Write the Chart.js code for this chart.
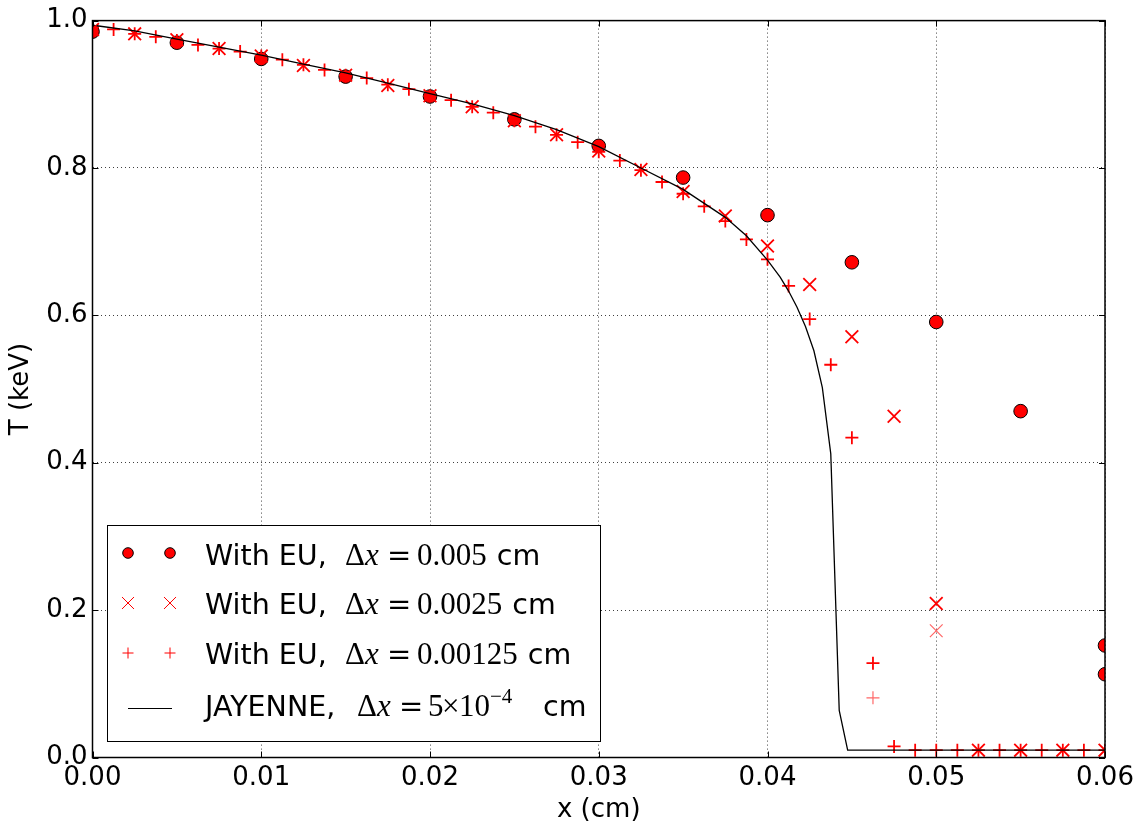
<!DOCTYPE html>
<html lang="en">
  <head>
    <meta charset="UTF-8" />
    <title>T vs x, with EU and JAYENNE</title>
    <script src="https://cdn.jsdelivr.net/npm/chart.js@4.4.0/dist/chart.umd.min.js"></script>
    <style>
      body { margin: 0; background: #fff; }
      canvas { display: block; }
    </style>
  </head>
  <body>
    <canvas id="chart" width="1148" height="827"></canvas>
    <script>
      // With EU, dx = 0.005 cm (filled circles)
      const xCoarse = [0, 0.005, 0.01, 0.015, 0.02, 0.025, 0.03, 0.035, 0.04, 0.045, 0.05, 0.055, 0.06];
      const tCoarse = [0.985, 0.970, 0.948, 0.924, 0.897, 0.866, 0.830, 0.787, 0.736, 0.672, 0.591, 0.470, 0.152];
      const xCoarseAlt = [0.06];
      const tCoarseAlt = [0.113];

      // With EU, dx = 0.0025 cm (x markers)
      const xMid = [0, 0.0025, 0.005, 0.0075, 0.01, 0.0125, 0.015, 0.0175, 0.02, 0.0225, 0.025, 0.0275, 0.03,
                    0.0325, 0.035, 0.0375, 0.04, 0.0425, 0.045, 0.0475, 0.05, 0.0525, 0.055, 0.0575, 0.06];
      const tMid = [0.988, 0.982, 0.974, 0.962, 0.952, 0.939, 0.926, 0.912, 0.898, 0.883, 0.864, 0.845, 0.823,
                    0.798, 0.768, 0.735, 0.694, 0.642, 0.571, 0.463, 0.209, 0.010, 0.010, 0.010, 0.010];
      const xMidAlt = [0.05];
      const tMidAlt = [0.172];

      // With EU, dx = 0.00125 cm (+ markers)
      const xFine = [0, 0.00125, 0.0025, 0.00375, 0.005, 0.00625, 0.0075, 0.00875, 0.01, 0.01125, 0.0125, 0.01375,
                     0.015, 0.01625, 0.0175, 0.01875, 0.02, 0.02125, 0.0225, 0.02375, 0.025, 0.02625, 0.0275, 0.02875,
                     0.03, 0.03125, 0.0325, 0.03375, 0.035, 0.03625, 0.0375, 0.03875, 0.04, 0.04125, 0.0425, 0.04375,
                     0.045, 0.04625, 0.0475, 0.04875, 0.05, 0.05125, 0.0525, 0.05375, 0.055, 0.05625, 0.0575, 0.05875, 0.06];
      const tFine = [0.991, 0.988, 0.982, 0.978, 0.973, 0.967, 0.962, 0.958, 0.952, 0.947, 0.940, 0.933,
                     0.926, 0.922, 0.913, 0.907, 0.898, 0.892, 0.883, 0.875, 0.864, 0.856, 0.845, 0.835,
                     0.822, 0.810, 0.797, 0.781, 0.765, 0.748, 0.728, 0.703, 0.676, 0.640, 0.595, 0.533,
                     0.434, 0.128, 0.015, 0.010, 0.010, 0.010, 0.010, 0.010, 0.010, 0.010, 0.010, 0.010, 0.010];
      const xFineAlt = [0.04625];
      const tFineAlt = [0.081];

      // JAYENNE, dx = 5e-4 cm (solid line)
      const xJay = [0.00025, 0.0025, 0.005, 0.0075, 0.01, 0.0125, 0.015, 0.0175, 0.02, 0.0225, 0.025, 0.0275,
                    0.03, 0.0325, 0.035, 0.0375, 0.03875, 0.04, 0.04075, 0.04125, 0.04175, 0.04225, 0.04275,
                    0.04325, 0.04375, 0.04425, 0.04475, 0.06];
      const tJay = [0.993, 0.986, 0.975, 0.964, 0.953, 0.941, 0.929, 0.915, 0.901, 0.887, 0.871, 0.852,
                    0.829, 0.800, 0.771, 0.733, 0.708, 0.675, 0.652, 0.633, 0.611, 0.585, 0.552,
                    0.502, 0.412, 0.064, 0.010, 0.010];

      const xTicks = [0, 0.01, 0.02, 0.03, 0.04, 0.05, 0.06];
      const yTicks = [0, 0.2, 0.4, 0.6, 0.8, 1.0];

      const RED = '#ff0000';
      const pts = (xs, ys) => xs.map((x, i) => ({ x: x, y: ys[i] }));

      // inward tick marks on all four sides + black frame
      const framePlugin = {
        id: 'frame',
        afterDatasetsDraw(chart) {
          const { ctx, chartArea: a, scales } = chart;
          ctx.save();
          ctx.strokeStyle = '#000';
          ctx.lineWidth = 1;
          xTicks.forEach(v => {
            const px = Math.round(scales.x.getPixelForValue(v)) + 0.5;
            ctx.beginPath();
            ctx.moveTo(px, a.bottom); ctx.lineTo(px, a.bottom - 6);
            ctx.moveTo(px, a.top); ctx.lineTo(px, a.top + 6);
            ctx.stroke();
          });
          yTicks.forEach(v => {
            const py = Math.round(scales.y.getPixelForValue(v)) + 0.5;
            ctx.beginPath();
            ctx.moveTo(a.left, py); ctx.lineTo(a.left + 6, py);
            ctx.moveTo(a.right, py); ctx.lineTo(a.right - 6, py);
            ctx.stroke();
          });
          ctx.lineWidth = 1.5;
          ctx.strokeRect(a.left, a.top, a.right - a.left, a.bottom - a.top);
          ctx.restore();
        }
      };

      // each run: text, font, absolute x (or follows previous run + gap), dy
      function drawRuns(ctx, y, runs) {
        let cur = 0;
        runs.forEach(r => {
          ctx.font = r.font;
          const x = r.x !== undefined ? r.x : cur + (r.gap || 0);
          ctx.fillText(r.text, x, y + (r.dy || 0));
          cur = x + ctx.measureText(r.text).width;
        });
      }

      // matplotlib-style legend with math text
      const legendPlugin = {
        id: 'mplLegend',
        afterDraw(chart) {
          const ctx = chart.ctx;
          const sans = '28.5px "DejaVu Sans"';
          const serif = '31px "Liberation Serif"';
          const serifIt = 'italic 31px "Liberation Serif"';
          const eq = '29px "DejaVu Serif"';
          const sup = '21px "Liberation Serif"';
          ctx.save();
          ctx.fillStyle = '#fff';
          ctx.fillRect(107, 525, 493, 216);
          ctx.strokeStyle = '#000';
          ctx.lineWidth = 1;
          ctx.strokeRect(107.5, 525.5, 493, 216);

          const mx = [128, 170];
          const draw = Chart.helpers.drawPoint;
          mx.forEach(x => {
            ctx.fillStyle = RED; ctx.strokeStyle = '#000'; ctx.lineWidth = 1;
            draw(ctx, { pointStyle: 'circle', radius: 5.3, borderWidth: 1 }, x, 553);
            ctx.strokeStyle = RED; ctx.lineWidth = 1;
            draw(ctx, { pointStyle: 'crossRot', radius: 8.5, borderWidth: 1 }, x, 603);
            draw(ctx, { pointStyle: 'cross', radius: 5.5, borderWidth: 1 }, x, 653);
          });
          ctx.strokeStyle = '#000'; ctx.lineWidth = 1;
          ctx.beginPath(); ctx.moveTo(128, 708.5); ctx.lineTo(172, 708.5); ctx.stroke();

          ctx.fillStyle = '#000';
          ctx.textBaseline = 'alphabetic';
          const eqRuns = (num) => [
            { text: 'With EU,', font: sans, x: 205 },
            { text: '\u0394', font: serif, x: 345 },
            { text: 'x', font: serifIt, x: 365 },
            { text: '=', font: eq, x: 387 },
            { text: num, font: serif, x: 417 },
            { text: 'cm', font: sans, gap: 10 }
          ];
          drawRuns(ctx, 565, eqRuns('0.005'));
          drawRuns(ctx, 614, eqRuns('0.0025'));
          drawRuns(ctx, 664, eqRuns('0.00125'));
          drawRuns(ctx, 716, [
            { text: 'JAYENNE,', font: sans, x: 205 },
            { text: '\u0394', font: serif, x: 357 },
            { text: 'x', font: serifIt, x: 377 },
            { text: '=', font: eq, x: 399 },
            { text: '5', font: serif, x: 428 },
            { text: '\u00d7', font: serif, x: 442 },
            { text: '10', font: serif, x: 459 },
            { text: '\u22124', font: sup, x: 490, dy: -13 },
            { text: 'cm', font: sans, x: 543 }
          ]);
          ctx.restore();
        }
      };

      const tickFont = { family: 'DejaVu Sans', size: 26 };

      new Chart(document.getElementById('chart'), {
        type: 'scatter',
        data: {
          datasets: [
            { label: 'JAYENNE', data: pts(xJay, tJay), showLine: true, borderColor: '#000', borderWidth: 1.3,
              pointRadius: 0, tension: 0, order: 0, clip: 0 },
            { label: 'dx 0.00125', data: pts(xFine, tFine), pointStyle: 'cross', pointRadius: 6.5,
              borderColor: RED, pointBorderWidth: 1.8, order: 1, clip: 0 },
            { label: 'dx 0.00125 b', data: pts(xFineAlt, tFineAlt), pointStyle: 'cross', pointRadius: 6.5,
              borderColor: 'rgba(255,0,0,0.6)', pointBorderWidth: 1.2, order: 1, clip: 0 },
            { label: 'dx 0.0025', data: pts(xMid, tMid), pointStyle: 'crossRot', pointRadius: 9,
              borderColor: RED, pointBorderWidth: 1.8, order: 2, clip: 0 },
            { label: 'dx 0.0025 b', data: pts(xMidAlt, tMidAlt), pointStyle: 'crossRot', pointRadius: 9,
              borderColor: 'rgba(255,0,0,0.6)', pointBorderWidth: 1.2, order: 2, clip: 0 },
            { label: 'dx 0.005', data: pts(xCoarse, tCoarse), pointStyle: 'circle', pointRadius: 6.8,
              backgroundColor: RED, borderColor: '#000', pointBorderWidth: 1, order: 3, clip: 0 },
            { label: 'dx 0.005 b', data: pts(xCoarseAlt, tCoarseAlt), pointStyle: 'circle', pointRadius: 6.8,
              backgroundColor: RED, borderColor: '#000', pointBorderWidth: 1, order: 3, clip: 0 }
          ]
        },
        options: {
          responsive: false,
          devicePixelRatio: 1,
          animation: false,
          events: [],
          layout: { padding: { top: 19, right: 43, left: 0, bottom: 0 } },
          plugins: { legend: { display: false }, tooltip: { enabled: false } },
          scales: {
            x: {
              type: 'linear', min: 0, max: 0.06,
              afterFit: s => { s.height = 69.5; },
              afterBuildTicks: s => { s.ticks = xTicks.map(v => ({ value: v })); },
              ticks: { color: '#000', font: tickFont, padding: 5, maxRotation: 0, autoSkip: false,
                       callback: v => v.toFixed(2) },
              grid: { color: 'rgba(0,0,0,0.75)', lineWidth: 1, drawTicks: false },
              border: { display: false, dash: [1, 3] },
              title: { display: true, text: 'x (cm)', color: '#000', font: tickFont,
                       padding: { top: 0, bottom: 1 } }
            },
            y: {
              type: 'linear', min: 0, max: 1,
              afterFit: s => { s.width = 92.5; },
              afterBuildTicks: s => { s.ticks = yTicks.map(v => ({ value: v })); },
              ticks: { color: '#000', font: tickFont, padding: 5, autoSkip: false,
                       callback: v => v.toFixed(1) },
              grid: { color: 'rgba(0,0,0,0.75)', lineWidth: 1, drawTicks: false },
              border: { display: false, dash: [1, 3] },
              title: { display: true, text: 'T (keV)', color: '#000', font: tickFont,
                       padding: { top: 6, bottom: 0 } }
            }
          }
        },
        plugins: [framePlugin, legendPlugin]
      });
    </script>
  </body>
</html>
